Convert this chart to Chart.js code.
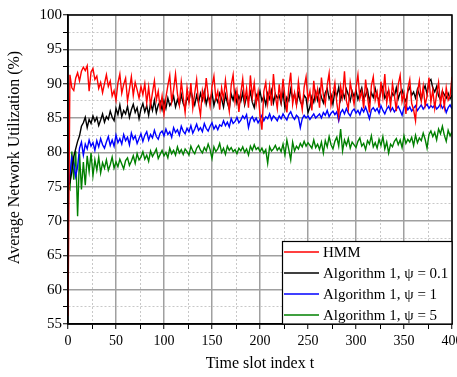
<!DOCTYPE html>
<html><head><meta charset="utf-8">
<script src="https://cdn.jsdelivr.net/npm/chart.js@4.4.0/dist/chart.umd.min.js"></script>
<style>html,body{margin:0;padding:0;background:#fff;overflow:hidden}#wrap{width:457px;height:377px;position:relative}</style>
</head><body><div id="wrap"><canvas id="c" width="457" height="377"></canvas></div>
<script>
const slots = [
0,2,4,6,8,10,12,14,16,18,20,22,24,26,28,30,32,34,36,38,
40,42,44,46,48,50,52,54,56,58,60,62,64,66,68,70,72,74,76,78,
80,82,84,86,88,90,92,94,96,98,100,102,104,106,108,110,112,114,116,118,
120,122,124,126,128,130,132,134,136,138,140,142,144,146,148,150,152,154,156,158,
160,162,164,166,168,170,172,174,176,178,180,182,184,186,188,190,192,194,196,198,
200,202,204,206,208,210,212,214,216,218,220,222,224,226,228,230,232,234,236,238,
240,242,244,246,248,250,252,254,256,258,260,262,264,266,268,270,272,274,276,278,
280,282,284,286,288,290,292,294,296,298,300,302,304,306,308,310,312,314,316,318,
320,322,324,326,328,330,332,334,336,338,340,342,344,346,348,350,352,354,356,358,
360,362,364,366,368,370,372,374,376,378,380,382,384,386,388,390,392,394,396,398,400];

const seriesNames = ["HMM", "Algorithm 1, \u03c8 = 0.1", "Algorithm 1, \u03c8 = 1", "Algorithm 1, \u03c8 = 5"];
const seriesColors = ["#ff0000", "#000000", "#0000ff", "#008000"];

const hmm = [
56.2,91.3,89.4,89.0,90.8,91.6,90.4,91.8,92.4,91.9,
92.6,88.9,91.7,92.2,90.6,91.1,89.3,90.2,88.7,90.0,
91.3,89.6,90.4,88.2,89.0,87.6,90.1,91.4,88.6,89.9,
90.8,87.5,89.2,91.0,88.3,90.2,89.1,87.9,89.6,88.4,
90.0,87.2,89.5,86.8,88.7,90.4,87.6,88.9,86.3,88.2,
85.6,88.0,89.7,91.2,87.4,89.1,91.4,88.5,86.9,90.3,
88.0,85.8,89.4,87.3,90.1,86.4,88.6,90.6,87.1,85.4,
89.0,87.6,90.8,88.3,86.7,89.6,91.1,87.8,88.9,86.2,
89.4,87.7,90.5,88.1,86.0,89.8,91.3,87.3,89.0,85.9,
88.6,90.7,87.4,89.3,86.5,91.2,88.0,90.1,87.0,88.8,
85.4,83.3,88.9,90.2,87.1,89.6,86.8,91.4,88.2,86.4,
89.9,87.5,90.7,88.1,85.8,89.4,91.6,87.0,88.7,86.9,
90.3,88.0,86.2,89.5,91.0,87.6,88.9,86.1,90.4,87.8,
89.2,86.5,90.9,88.3,87.0,89.8,91.5,86.9,88.4,90.1,
87.2,85.2,89.6,88.0,91.8,87.5,86.3,90.2,88.6,87.0,
89.4,91.3,87.8,88.9,86.4,90.6,88.1,85.8,89.7,91.0,
87.6,88.8,86.5,90.3,88.0,91.4,87.2,89.1,86.7,90.0,
88.3,86.0,89.9,91.2,87.4,88.6,85.6,89.3,90.6,87.1,
86.2,84.6,88.7,90.4,87.5,89.6,86.8,88.2,90.9,87.3,
89.1,86.4,88.5,90.2,87.0,88.9,86.6,89.4,87.6,88.2,
91.0];

const algPsi01 = [
75.0,75.6,77.2,79.4,80.5,81.6,82.4,83.8,84.3,85.1,
83.6,84.8,84.2,85.3,84.5,85.1,83.9,84.7,85.6,84.4,
85.2,84.8,86.0,85.1,84.6,86.4,85.5,86.9,85.2,86.1,
85.6,86.7,85.1,86.2,87.0,85.8,86.5,84.9,86.3,87.1,
85.9,86.8,85.4,87.2,86.1,87.6,85.8,86.9,87.4,86.2,
87.5,86.4,87.9,86.8,87.3,88.2,86.6,87.7,86.9,88.4,
87.1,86.5,88.0,87.4,89.1,87.8,86.9,88.3,87.2,88.6,
87.6,88.9,87.0,88.2,87.5,88.7,86.8,88.0,87.3,88.6,
87.8,86.6,88.4,87.2,86.3,88.5,87.6,88.9,87.1,88.2,
87.4,88.7,86.9,88.1,87.6,88.8,87.3,86.5,88.4,87.7,
88.9,87.5,88.2,86.9,88.6,87.8,89.0,87.2,88.5,87.9,
88.3,87.1,88.8,86.4,88.0,87.5,89.2,87.8,88.5,87.0,
88.6,87.4,86.8,88.3,87.9,85.8,86.6,88.1,87.3,88.8,
87.6,89.1,88.0,87.2,88.7,89.3,87.8,88.4,87.0,88.9,
88.2,89.5,87.6,88.8,87.9,89.2,88.4,87.5,88.9,88.1,
89.0,87.7,88.6,89.4,87.8,88.3,89.1,87.4,88.7,88.0,
89.3,88.1,87.6,88.9,89.6,87.9,88.4,89.0,87.5,88.6,
88.2,89.4,87.8,88.7,89.1,88.0,87.4,88.9,89.5,88.3,
88.8,87.9,89.2,88.4,87.6,89.0,89.7,88.5,90.3,90.6,
89.4,88.8,89.6,88.2,87.7,88.9,88.4,87.9,88.6,87.8,
88.3];

const algPsi1 = [
75.0,76.8,79.3,78.4,76.5,77.9,80.6,81.5,79.6,81.2,
80.5,81.8,80.9,81.4,80.3,81.7,80.8,82.0,81.1,80.6,
81.5,82.3,81.0,81.8,80.9,82.5,81.4,82.0,81.2,82.6,
81.7,82.2,81.1,82.8,81.9,82.4,81.3,82.0,82.7,81.6,
82.5,83.0,81.8,82.6,82.1,83.2,82.3,81.9,82.8,83.1,
82.4,83.4,82.6,83.0,82.2,83.6,82.9,83.3,82.5,83.8,
83.1,82.7,83.5,83.0,83.9,82.8,83.4,84.1,83.2,83.6,
83.0,84.2,83.5,83.1,83.8,84.3,83.4,83.9,83.3,84.0,
83.8,84.6,83.9,84.4,83.7,84.9,84.2,84.5,85.1,84.3,
84.7,85.3,84.9,85.5,83.6,84.8,85.2,84.5,85.0,84.3,
84.8,85.4,84.6,85.2,84.9,85.6,84.7,85.3,85.0,84.6,
85.3,84.9,85.6,85.1,84.7,85.5,85.9,85.2,84.8,85.4,
85.1,83.6,84.9,85.4,85.0,85.3,84.8,85.2,85.6,85.0,
85.3,85.6,85.0,85.8,85.4,86.1,85.2,85.7,86.0,85.5,
85.9,84.6,85.8,86.2,85.6,86.4,85.7,85.3,86.0,86.3,
85.7,86.1,85.5,86.4,85.9,86.6,85.8,84.9,86.2,86.5,
86.0,86.4,85.7,86.8,86.1,85.6,86.3,86.7,86.0,86.5,
85.9,86.3,86.7,86.1,85.4,86.5,86.9,86.2,86.6,86.0,
86.4,86.8,86.1,86.5,86.9,86.3,86.7,87.0,86.4,86.8,
86.5,86.9,86.3,86.6,87.1,86.4,86.8,85.8,86.5,86.9,
86.3];

const algPsi5 = [
75.0,74.6,80.1,76.0,80.2,70.7,79.8,74.6,78.6,75.2,
79.5,77.2,79.9,76.6,78.9,77.4,79.3,77.0,78.5,77.7,
78.9,77.4,78.2,79.3,77.7,78.6,77.9,79.0,78.3,77.6,
78.8,79.2,78.1,78.7,79.5,78.4,79.8,78.9,79.3,80.1,
79.0,79.6,78.7,80.2,79.4,79.9,80.5,79.1,79.7,80.3,
79.5,80.0,79.2,80.6,79.8,80.3,79.6,80.8,79.9,80.4,
79.7,80.5,80.1,79.6,80.9,80.2,79.8,80.6,81.0,80.3,
79.9,80.7,80.2,81.2,80.4,79.1,80.8,80.1,80.5,81.3,
80.0,80.6,79.7,80.9,80.3,80.7,80.1,80.4,79.8,80.6,
80.2,80.8,80.0,80.5,79.6,80.9,80.3,81.1,80.4,80.7,
80.1,80.6,79.9,80.4,78.4,80.8,80.2,80.5,81.0,80.3,
80.7,80.1,81.2,79.6,81.8,80.4,78.9,81.5,80.2,80.9,
80.5,81.3,80.8,81.6,80.9,81.4,81.0,80.6,81.8,80.7,
81.2,80.4,81.5,79.9,81.7,80.8,82.3,81.1,80.5,81.6,
82.2,80.9,83.4,80.2,81.8,81.0,82.0,80.6,81.5,81.1,
80.7,81.6,82.1,80.9,81.3,80.4,81.7,81.2,82.4,80.8,
81.4,80.6,81.9,81.0,82.3,80.5,81.5,79.9,81.2,80.8,
81.6,82.0,81.1,81.8,80.7,82.4,81.3,81.9,81.5,82.2,
81.0,82.5,81.4,82.1,81.7,82.8,81.9,80.6,82.6,83.1,
82.3,82.9,81.8,83.4,82.7,83.8,82.5,81.6,83.2,82.4,
83.0];

const xTickLabels = [0, 50, 100, 150, 200, 250, 300, 350, 400];
const yTickLabels = [55, 60, 65, 70, 75, 80, 85, 90, 95, 100];
const xTitle = "Time slot index t";
const yTitle = "Average Network Utilization (%)";

const seriesValues = [hmm, algPsi01, algPsi1, algPsi5];
const SERIF = "'Liberation Serif', 'Times New Roman', serif";

const isMajorX = v => xTickLabels.includes(v);
const isMajorY = v => yTickLabels.includes(v);

const framePlugin = {
  id: 'frame',
  afterDatasetsDraw(chart) {
    const {ctx, chartArea: a} = chart;
    ctx.save();
    ctx.strokeStyle = '#000';
    ctx.lineWidth = 1.5;
    ctx.strokeRect(a.left, a.top, a.right - a.left, a.bottom - a.top);
    ctx.restore();
  }
};

const yTitlePlugin = {
  id: 'yTitle',
  afterDraw(chart) {
    const {ctx, chartArea: a} = chart;
    ctx.save();
    ctx.translate(a.left - 53, a.top + 142.5);
    ctx.rotate(-Math.PI / 2);
    ctx.font = "16px " + SERIF;
    ctx.fillStyle = '#000';
    ctx.textAlign = 'center';
    ctx.textBaseline = 'middle';
    ctx.fillText(yTitle, 0, 0);
    ctx.restore();
  }
};

const legendPlugin = {
  id: 'insetLegend',
  afterDraw(chart) {
    const {ctx, chartArea: a} = chart;
    const w = 170, h = 83;
    const left = a.right - w, top = a.bottom - h;
    ctx.save();
    ctx.fillStyle = '#fff';
    ctx.fillRect(left, top, w, h);
    ctx.strokeStyle = '#000';
    ctx.lineWidth = 1.2;
    ctx.strokeRect(left + 0.5, top + 0.5, w - 0.5, h - 0.5);
    ctx.font = "15px " + SERIF;
    ctx.textBaseline = 'middle';
    ctx.textAlign = 'left';
    chart.data.datasets.forEach((ds, i) => {
      const y = top + 11 + i * 21;
      ctx.strokeStyle = ds.borderColor;
      ctx.lineWidth = 1.3;
      ctx.beginPath();
      ctx.moveTo(left + 2, y);
      ctx.lineTo(left + 37, y);
      ctx.stroke();
      ctx.fillStyle = '#000';
      ctx.fillText(ds.label, left + 41, y + 1);
    });
    ctx.restore();
  }
};

new Chart(document.getElementById('c'), {
  type: 'line',
  data: {
    datasets: seriesValues.map((vals, k) => ({
      label: seriesNames[k],
      data: vals.map((v, i) => ({x: slots[i], y: v})),
      borderColor: seriesColors[k],
      backgroundColor: seriesColors[k],
      borderWidth: 1.4,
      pointRadius: 0,
      tension: 0,
      fill: false
    }))
  },
  options: {
    responsive: false,
    devicePixelRatio: 1,
    animation: false,
    events: [],
    layout: {padding: {left: 0, right: 5, top: 15, bottom: 0}},
    plugins: {legend: {display: false}, tooltip: {enabled: false}},
    scales: {
      x: {
        type: 'linear', min: 0, max: 400,
        afterFit(s) { s.height = 53; s.paddingLeft = 0; s.paddingRight = 0; },
        ticks: {
          stepSize: 25, autoSkip: false, maxRotation: 0, padding: 4,
          color: '#000', font: {family: SERIF, size: 14},
          callback: v => isMajorX(v) ? String(v) : ''
        },
        grid: {
          color: c => (c.tick && !isMajorX(c.tick.value)) ? '#c8c8c8' : '#a0a0a0',
          lineWidth: c => (c.tick && !isMajorX(c.tick.value)) ? 1 : 1.5,
          tickLength: 5, tickColor: '#000', tickWidth: 1
        },
        border: {color: '#000', width: 1.5,
          dash: c => (c.tick && !isMajorX(c.tick.value)) ? [2, 2] : []},
        title: {display: true, text: xTitle, color: '#000',
          font: {family: SERIF, size: 16}, padding: {top: 0, bottom: 3.5}}
      },
      y: {
        type: 'linear', min: 55, max: 100,
        afterFit(s) { s.width = 68; s.paddingTop = 0; s.paddingBottom = 0; },
        ticks: {
          stepSize: 2.5, autoSkip: false, padding: 1,
          color: '#000', font: {family: SERIF, size: 15},
          callback: v => isMajorY(v) ? String(v) : ''
        },
        grid: {
          color: c => (c.tick && !isMajorY(c.tick.value)) ? '#c8c8c8' : '#a0a0a0',
          lineWidth: c => (c.tick && !isMajorY(c.tick.value)) ? 1 : 1.5,
          tickLength: 5, tickColor: '#000', tickWidth: 1
        },
        border: {color: '#000', width: 1.5,
          dash: c => (c.tick && !isMajorY(c.tick.value)) ? [2, 2] : []},
        title: {display: false}
      }
    }
  },
  plugins: [framePlugin, yTitlePlugin, legendPlugin]
});
</script>
</body></html>
